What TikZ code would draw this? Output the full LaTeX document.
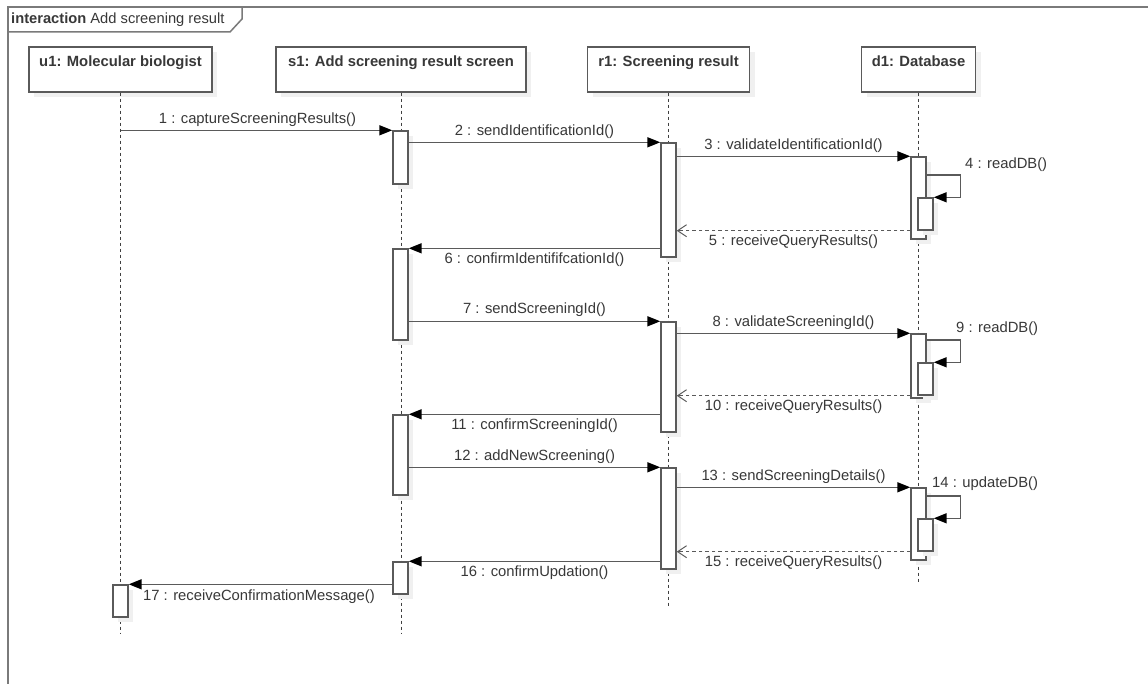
\documentclass[tikz,border=0pt]{standalone}
\usepackage{fontspec}
\setmainfont{Liberation Sans}
\usetikzlibrary{arrows.meta,fit,shadows}
\definecolor{ln}{HTML}{5A5A5A}
\definecolor{tx}{HTML}{383838}
\definecolor{fr}{HTML}{7A7A7A}
\begin{document}
\begin{tikzpicture}[x=1pt,y=-1pt,
  shd/.style={general shadow={fill=black!6, shadow xshift=5pt, shadow yshift=-5pt}},
  head/.style={draw=ln, line width=1.4pt, fill=white, inner sep=0pt, text height=20pt, text depth=25pt, minimum height=45pt, font=\fontsize{14.8}{17}\selectfont\bfseries, text=tx, shd},
  act/.style={draw=ln, line width=1.4pt, fill=white, inner sep=0pt, shd},
  msg/.style={draw=ln, line width=1.5pt, -{Triangle[length=13pt,width=10pt,color=black]}},
  ret/.style={draw=ln, line width=1.4pt, dash pattern=on 3.5pt off 3pt, -{Straight Barb[length=9pt,width=12pt,line width=1pt]}},
  life/.style={draw=black!75, line width=1pt, dash pattern=on 3pt off 3pt},
  lbl/.style={font=\fontsize{14.8}{17}\selectfont, text=tx, inner sep=0pt},
  frame/.style={draw=fr, line width=1.5pt},
]
\useasboundingbox (0,0) rectangle (1148,684);
\clip (0,0) rectangle (1148,684);
\fill[white] (0,0) rectangle (1148,684);

% frame and tab
\draw[frame] (8,720) -- (8,7) -- (1170,7);
\draw[frame] (8,32) -- (230,32) -- (242,19) -- (242,7);
\node[lbl, anchor=base west, font=\fontsize{14.7}{17}\selectfont] (tab) at (11,24) {\textbf{interaction} Add screening result};

% heads
\node[head, minimum width=183pt] (u1) at (120.5,69.5) {u1: Molecular biologist};
\node[head, minimum width=250pt] (s1) at (401,69.5) {s1: Add screening result screen};
\node[head, minimum width=162pt] (r1) at (668.5,69.5) {r1: Screening result};
\node[head, minimum width=114pt] (d1) at (918.5,69.5) {d1: Database};

% lifeline ends
\coordinate (u1end) at (120.5,633);
\coordinate (s1end) at (401,633);
\coordinate (r1end) at (668.5,608);
\coordinate (d1end) at (918.5,583);
\draw[life] (u1.south) -- (u1end);
\draw[life] (s1.south) -- (s1end);
\draw[life] (r1.south) -- (r1end);
\draw[life] (d1.south) -- (d1end);

% activations
\node[act, fit={(393,131)(408,184)}] (s1a1) {};
\node[act, fit={(393,249)(408,340)}] (s1a2) {};
\node[act, fit={(393,415)(408,495)}] (s1a3) {};
\node[act, fit={(393,562)(408,594)}] (s1a4) {};
\node[act, fit={(113,585)(128,617)}] (u1a) {};
\node[act, fit={(661,143)(676,257)}] (r1a1) {};
\node[act, fit={(661,322)(676,432)}] (r1a2) {};
\node[act, fit={(661,468)(676,569)}] (r1a3) {};
\node[act, fit={(911,157)(926,239)}] (d1a1) {};
\node[act, fit={(911,334)(926,398)}] (d1a2) {};
\node[act, fit={(911,488)(926,560)}] (d1a3) {};
\node[act, fit={(918,198)(933,230)}] (d1n1) {};
\node[act, fit={(918,363)(933,395)}] (d1n2) {};
\node[act, fit={(918,519)(933,551)}] (d1n3) {};

% messages
\draw[msg] (u1.south |- s1a1.north) -- (s1a1.north west);
\draw[msg] (s1a1.east |- r1a1.north) -- (r1a1.north west);
\draw[msg] (r1a1.east |- d1a1.north) -- (d1a1.north west);
\draw[msg] (d1a1.east |- 0,175) -- ++(34,0) |- (d1n1.north east);
\draw[ret] (d1a1.west |- d1n1.south) -- (r1a1.east |- d1n1.south);
\draw[msg] (r1a1.west |- s1a2.north) -- (s1a2.north east);
\draw[msg] (s1a2.east |- r1a2.north) -- (r1a2.north west);
\draw[msg] (r1a2.east |- d1a2.north) -- (d1a2.north west);
\draw[msg] (d1a2.east |- 0,340) -- ++(34,0) |- (d1n2.north east);
\draw[ret] (d1a2.west |- d1n2.south) -- (r1a2.east |- d1n2.south);
\draw[msg] (r1a2.west |- s1a3.north) -- (s1a3.north east);
\draw[msg] (s1a3.east |- r1a3.north) -- (r1a3.north west);
\draw[msg] (r1a3.east |- d1a3.north) -- (d1a3.north west);
\draw[msg] (d1a3.east |- 0,496) -- ++(34,0) |- (d1n3.north east);
\draw[ret] (d1a3.west |- d1n3.south) -- (r1a3.east |- d1n3.south);
\draw[msg] (r1a3.west |- s1a4.north) -- (s1a4.north east);
\draw[msg] (s1a4.west |- u1a.north) -- (u1a.north east);

% labels
\node[lbl] (l1) at (257.5,120) {1 : captureScreeningResults()};
\node[lbl] (l2) at (534.5,132) {2 : sendIdentificationId()};
\node[lbl] (l3) at (793.5,146) {3 : validateIdentificationId()};
\node[lbl, anchor=west] (l4) at (965,165) {4 : readDB()};
\node[lbl] (l5) at (793.5,242) {5 : receiveQueryResults()};
\node[lbl] (l6) at (534.5,260) {6 : confirmIdentififcationId()};
\node[lbl] (l7) at (534.5,310) {7 : sendScreeningId()};
\node[lbl] (l8) at (793.5,323) {8 : validateScreeningId()};
\node[lbl, anchor=west] (l9) at (956,329) {9 : readDB()};
\node[lbl] (l10) at (793.5,407) {10 : receiveQueryResults()};
\node[lbl] (l11) at (534.5,426) {11 : confirmScreeningId()};
\node[lbl] (l12) at (534.5,457) {12 : addNewScreening()};
\node[lbl] (l13) at (793.5,477) {13 : sendScreeningDetails()};
\node[lbl, anchor=west] (l14) at (932,484) {14 : updateDB()};
\node[lbl] (l15) at (793.5,563) {15 : receiveQueryResults()};
\node[lbl] (l16) at (534.5,573) {16 : confirmUpdation()};
\node[lbl] (l17) at (259,597) {17 : receiveConfirmationMessage()};
\end{tikzpicture}
\end{document}
